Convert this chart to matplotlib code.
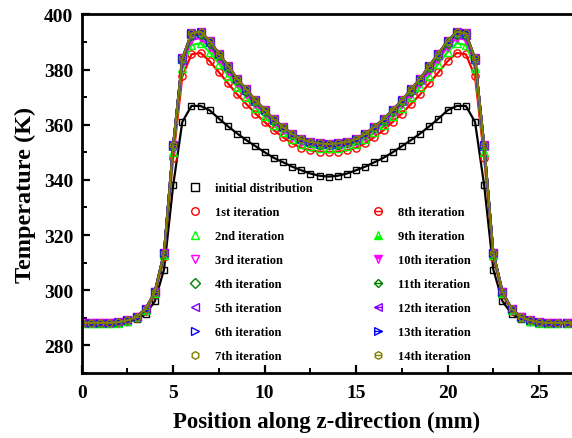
import matplotlib
matplotlib.use("Agg")
import matplotlib.pyplot as plt
from matplotlib.path import Path
from matplotlib.lines import Line2D
from matplotlib.ticker import MultipleLocator

z_mm = [0.0, 0.5, 1.0, 1.5, 2.0, 2.5, 3.0, 3.5, 4.0, 4.5, 5.0, 5.5, 6.0, 6.5, 7.0, 7.5, 8.0, 8.5, 9.0, 9.5,
        10.0, 10.5, 11.0, 11.5, 12.0, 12.5, 13.0, 13.5, 14.0, 14.5, 15.0, 15.5, 16.0, 16.5, 17.0, 17.5, 18.0, 18.5, 19.0, 19.5,
        20.0, 20.5, 21.0, 21.5, 22.0, 22.5, 23.0, 23.5, 24.0, 24.5, 25.0, 25.5, 26.0, 26.5, 27.0]

T_initial = [288.0,288.0,288.0,288.0,288.0,288.5,289.5,291.5,296.0,307.5,338.0,361.0,366.8,366.8,365.2,362.2,359.4,356.8,354.4,352.2,350.0,348.0,346.4,344.8,343.5,342.3,341.5,341.2,
             341.5,342.3,343.5,344.8,346.4,348.0,350.0,352.2,354.4,356.8,359.4,362.2,365.2,366.8,366.8,361.0,338.0,307.5,296.0,291.5,289.5,288.5,288.0,288.0,288.0,288.0,288.0]
T_it1 = [288.0,288.0,288.0,288.0,288.2,288.8,290.0,292.6,298.5,312.0,348.0,377.5,385.5,386.0,383.0,379.0,375.0,371.0,367.5,364.0,361.0,358.0,355.5,353.3,351.6,350.7,350.2,350.0,
         350.2,350.7,351.6,353.3,355.5,358.0,361.0,364.0,367.5,371.0,375.0,379.0,383.0,386.0,385.5,377.5,348.0,312.0,298.5,292.6,290.0,288.8,288.2,288.0,288.0,288.0,288.0]
T_it2 = [288.1,288.1,288.1,288.1,288.3,288.9,290.2,292.9,299.0,312.7,350.0,380.4,388.9,389.5,386.3,382.1,377.8,373.6,369.9,366.2,363.0,359.8,357.2,354.8,353.0,352.1,351.5,351.4,
         351.5,352.1,353.0,354.8,357.2,359.8,363.0,366.2,369.9,373.6,377.8,382.1,386.3,389.5,388.9,380.4,350.0,312.7,299.0,292.9,290.2,288.9,288.3,288.1,288.1,288.1,288.1]
T_it3 = [288.1,288.1,288.1,288.1,288.3,289.0,290.3,293.0,299.2,313.1,351.2,382.1,390.8,391.4,388.1,383.8,379.4,375.0,371.2,367.4,364.1,360.8,358.1,355.7,353.8,352.9,352.3,352.1,
         352.3,352.9,353.8,355.7,358.1,360.8,364.1,367.4,371.2,375.0,379.4,383.8,388.1,391.4,390.8,382.1,351.2,313.1,299.2,293.0,290.3,289.0,288.3,288.1,288.1,288.1,288.1]
T_it4 = [288.2,288.2,288.2,288.2,288.4,289.1,290.3,293.1,299.4,313.3,351.8,383.0,392.0,392.6,389.2,384.8,380.4,375.9,372.0,368.1,364.7,361.4,358.7,356.2,354.3,353.3,352.8,352.6,
         352.8,353.3,354.3,356.2,358.7,361.4,364.7,368.1,372.0,375.9,380.4,384.8,389.2,392.6,392.0,383.0,351.8,313.3,299.4,293.1,290.3,289.1,288.4,288.2,288.2,288.2,288.2]
T_it5 = [288.2,288.2,288.2,288.2,288.4,289.1,290.4,293.2,299.4,313.4,352.2,383.6,392.6,393.2,389.8,385.3,380.9,376.3,372.4,368.5,365.1,361.7,358.9,356.5,354.6,353.6,353.0,352.8,
         353.0,353.6,354.6,356.5,358.9,361.7,365.1,368.5,372.4,376.3,380.9,385.3,389.8,393.2,392.6,383.6,352.2,313.4,299.4,293.2,290.4,289.1,288.4,288.2,288.2,288.2,288.2]
T_it6 = [288.2,288.2,288.2,288.2,288.4,289.1,290.4,293.2,299.5,313.4,352.3,383.7,392.8,393.4,390.0,385.5,381.1,376.5,372.6,368.6,365.2,361.8,359.1,356.6,354.7,353.7,353.1,352.9,
         353.1,353.7,354.7,356.6,359.1,361.8,365.2,368.6,372.6,376.5,381.1,385.5,390.0,393.4,392.8,383.7,352.3,313.4,299.5,293.2,290.4,289.1,288.4,288.2,288.2,288.2,288.2]
T_it7 = [288.2,288.2,288.2,288.2,288.4,289.1,290.4,293.2,299.5,313.5,352.4,383.9,393.0,393.6,390.2,385.7,381.2,376.6,372.7,368.7,365.3,361.9,359.1,356.6,354.7,353.7,353.1,352.9,
         353.1,353.7,354.7,356.6,359.1,361.9,365.3,368.7,372.7,376.6,381.2,385.7,390.2,393.6,393.0,383.9,352.4,313.5,299.5,293.2,290.4,289.1,288.4,288.2,288.2,288.2,288.2]
T_it8 = [288.2,288.2,288.2,288.2,288.4,289.1,290.4,293.2,299.5,313.5,352.5,384.0,393.1,393.7,390.3,385.8,381.3,376.7,372.8,368.8,365.4,362.0,359.2,356.7,354.8,353.8,353.2,353.0,
         353.2,353.8,354.8,356.7,359.2,362.0,365.4,368.8,372.8,376.7,381.3,385.8,390.3,393.7,393.1,384.0,352.5,313.5,299.5,293.2,290.4,289.1,288.4,288.2,288.2,288.2,288.2]
T_it9 = [288.2,288.2,288.2,288.2,288.4,289.1,290.4,293.2,299.5,313.5,352.5,384.0,393.1,393.7,390.3,385.8,381.3,376.7,372.8,368.8,365.4,362.0,359.2,356.7,354.8,353.8,353.2,353.0,
         353.2,353.8,354.8,356.7,359.2,362.0,365.4,368.8,372.8,376.7,381.3,385.8,390.3,393.7,393.1,384.0,352.5,313.5,299.5,293.2,290.4,289.1,288.4,288.2,288.2,288.2,288.2]
T_it10 = [288.2,288.2,288.2,288.2,288.4,289.1,290.4,293.2,299.5,313.5,352.5,384.0,393.1,393.7,390.3,385.8,381.3,376.7,372.8,368.8,365.4,362.0,359.2,356.7,354.8,353.8,353.2,353.0,
          353.2,353.8,354.8,356.7,359.2,362.0,365.4,368.8,372.8,376.7,381.3,385.8,390.3,393.7,393.1,384.0,352.5,313.5,299.5,293.2,290.4,289.1,288.4,288.2,288.2,288.2,288.2]
T_it11 = [288.2,288.2,288.2,288.2,288.4,289.1,290.4,293.2,299.5,313.5,352.5,384.0,393.1,393.7,390.3,385.8,381.3,376.7,372.8,368.8,365.4,362.0,359.2,356.7,354.8,353.8,353.2,353.0,
          353.2,353.8,354.8,356.7,359.2,362.0,365.4,368.8,372.8,376.7,381.3,385.8,390.3,393.7,393.1,384.0,352.5,313.5,299.5,293.2,290.4,289.1,288.4,288.2,288.2,288.2,288.2]
T_it12 = [288.2,288.2,288.2,288.2,288.4,289.1,290.4,293.2,299.5,313.5,352.5,384.0,393.1,393.7,390.3,385.8,381.3,376.7,372.8,368.8,365.4,362.0,359.2,356.7,354.8,353.8,353.2,353.0,
          353.2,353.8,354.8,356.7,359.2,362.0,365.4,368.8,372.8,376.7,381.3,385.8,390.3,393.7,393.1,384.0,352.5,313.5,299.5,293.2,290.4,289.1,288.4,288.2,288.2,288.2,288.2]
T_it13 = [288.2,288.2,288.2,288.2,288.4,289.1,290.4,293.2,299.5,313.5,352.5,384.0,393.1,393.7,390.3,385.8,381.3,376.7,372.8,368.8,365.4,362.0,359.2,356.7,354.8,353.8,353.2,353.0,
          353.2,353.8,354.8,356.7,359.2,362.0,365.4,368.8,372.8,376.7,381.3,385.8,390.3,393.7,393.1,384.0,352.5,313.5,299.5,293.2,290.4,289.1,288.4,288.2,288.2,288.2,288.2]
T_it14 = [288.2,288.2,288.2,288.2,288.4,289.1,290.4,293.2,299.5,313.5,352.5,384.0,393.1,393.7,390.3,385.8,381.3,376.7,372.8,368.8,365.4,362.0,359.2,356.7,354.8,353.8,353.2,353.0,
          353.2,353.8,354.8,356.7,359.2,362.0,365.4,368.8,372.8,376.7,381.3,385.8,390.3,393.7,393.1,384.0,352.5,313.5,299.5,293.2,290.4,289.1,288.4,288.2,288.2,288.2,288.2]

labels = ["initial distribution", "1st iteration", "2nd iteration", "3rd iteration", "4th iteration",
          "5th iteration", "6th iteration", "7th iteration", "8th iteration", "9th iteration",
          "10th iteration", "11th iteration", "12th iteration", "13th iteration", "14th iteration"]
series = [T_initial, T_it1, T_it2, T_it3, T_it4, T_it5, T_it6, T_it7,
          T_it8, T_it9, T_it10, T_it11, T_it12, T_it13, T_it14]

# ---- custom "barred" markers (Origin style) ----
def barred(verts, half=1.0):
    n = len(verts)
    poly = Path(verts + [verts[0]], [Path.MOVETO] + [Path.LINETO] * (n - 1) + [Path.CLOSEPOLY])
    bar = Path([[-half, 0.0], [half, 0.0]], [Path.MOVETO, Path.LINETO])
    return Path.make_compound_path(poly, bar)

circle_bar = Path.make_compound_path(Path.unit_circle(),
                                     Path([[-1.0, 0.0], [1.0, 0.0]], [Path.MOVETO, Path.LINETO]))
diamond_bar = barred([[0, 1], [1, 0], [0, -1], [-1, 0]])
left_bar = barred([[-1, 0], [1, 1], [1, -1]])
right_bar = barred([[1, 0], [-1, 1], [-1, -1]])
hex_bar = barred([[0, 1], [-0.866, 0.5], [-0.866, -0.5], [0, -1], [0.866, -0.5], [0.866, 0.5]], half=0.866)

styles = [
    dict(color="black", marker="s", fill="none", ms=5.0),
    dict(color="#FF0000", marker="o", fill="none"),
    dict(color="#00FF00", marker="^", fill="none"),
    dict(color="#FF00FF", marker="v", fill="none"),
    dict(color="#008000", marker="D", fill="none", ms=4.5),
    dict(color="#8000FF", marker="<", fill="none"),
    dict(color="#0000FF", marker=">", fill="none"),
    dict(color="#808000", marker="h", fill="none"),
    dict(color="#FF0000", marker=circle_bar, fill="none"),
    dict(color="#00FF00", marker="^", fill="bottom"),
    dict(color="#FF00FF", marker="v", fill="top"),
    dict(color="#008000", marker=diamond_bar, fill="none", ms=5.5),
    dict(color="#8000FF", marker=left_bar, fill="none"),
    dict(color="#0000FF", marker=right_bar, fill="none"),
    dict(color="#808000", marker=hex_bar, fill="none"),
]

plt.rcParams["font.family"] = ["Liberation Serif", "DejaVu Serif"]
plt.rcParams["font.weight"] = "bold"

fig = plt.figure(figsize=(5.72, 4.39), dpi=100)
ax = fig.add_axes([0.1428, 0.148, 1.0 - 0.1428, 0.9651 - 0.148])

def mk_kwargs(st, scale=1.0):
    kw = dict(marker=st["marker"], markersize=st.get("ms", 5.2) * scale, markeredgewidth=1.0,
              markeredgecolor=st["color"])
    if st["fill"] == "none":
        kw.update(markerfacecolor="none")
    else:
        kw.update(fillstyle=st["fill"], markerfacecolor=st["color"], markerfacecoloralt="none")
    return kw

for T, st in zip(series, styles):
    ax.plot(z_mm, T, color=st["color"], linewidth=1.6, **mk_kwargs(st))

ax.set_xlim(0, 26.8)
ax.set_ylim(270, 400)
ax.xaxis.set_major_locator(MultipleLocator(5))
ax.xaxis.set_minor_locator(MultipleLocator(2.5))
ax.yaxis.set_major_locator(MultipleLocator(20))
ax.yaxis.set_minor_locator(MultipleLocator(10))
ax.yaxis.set_ticks([280, 300, 320, 340, 360, 380, 400])
ax.tick_params(which="major", direction="in", length=6, width=1.6, labelsize=14,
               top=False, right=False)
ax.tick_params(axis="x", which="major", pad=8)
ax.tick_params(axis="y", which="major", pad=6)
ax.tick_params(which="minor", direction="in", length=3.5, width=1.4, top=False, right=False)
for lab in ax.get_xticklabels() + ax.get_yticklabels():
    lab.set_fontweight("bold")
for side in ["left", "bottom", "top"]:
    ax.spines[side].set_linewidth(2.0)
ax.spines["right"].set_visible(False)

ax.set_xlabel("Position along z-direction (mm)", fontsize=16.5, fontweight="bold", labelpad=7)
ax.set_ylabel("Temperature (K)", fontsize=17.5, fontweight="bold", labelpad=6)

# legend: two columns, second column starts one row lower
handles = []
for st in styles:
    handles.append(Line2D([], [], linestyle="none", **mk_kwargs(st, scale=1.05)))
blank = Line2D([], [], linestyle="none", marker=None)
hl = handles[:8] + [blank] + handles[8:]
ll = labels[:8] + [""] + labels[8:]
leg = fig.legend(hl, ll, loc="upper left", bbox_to_anchor=(189 / 572, 1 - 183 / 439),
                 ncol=2, frameon=False, prop=dict(family="Liberation Serif", weight="bold", size=9),
                 handlelength=1.0, handletextpad=1.1, labelspacing=0.96, columnspacing=4.7,
                 borderpad=0.0, borderaxespad=0.0)

fig.savefig("out.png", dpi=100)
